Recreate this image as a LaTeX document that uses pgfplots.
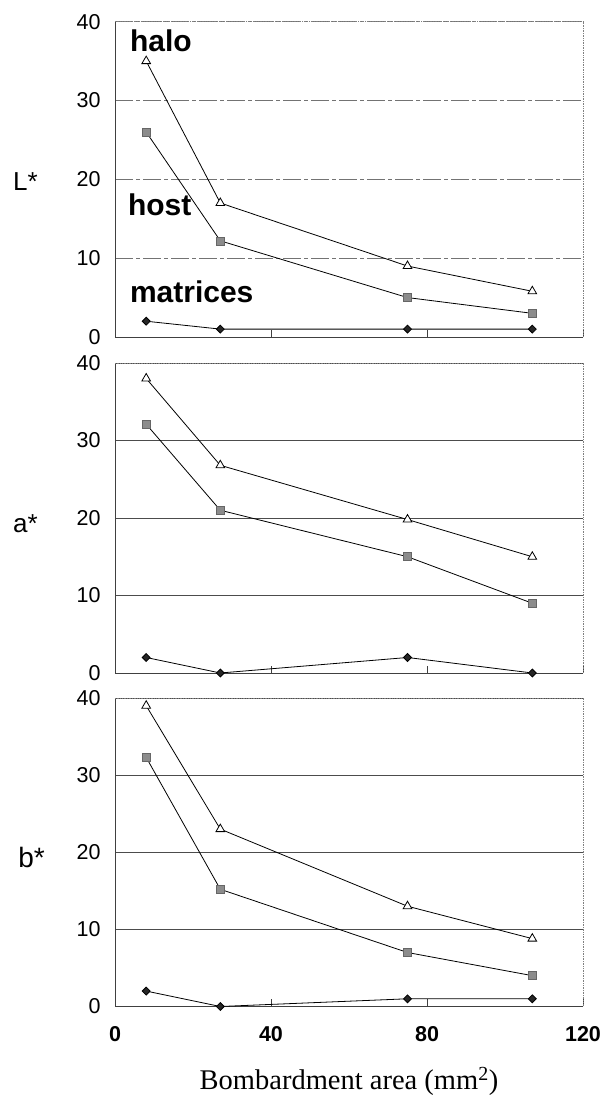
\documentclass[border=0pt]{standalone}
\usepackage{fontspec}
\setmainfont{Liberation Serif}
\newfontfamily\arial{Liberation Sans}
\usepackage{pgfplots}
\usepackage{pgfplotstable}
\pgfplotsset{compat=1.18}

\pgfplotstableread{
x halo host mat
8 35 26 2
27 17 12.2 1
75 9 5 1
107 5.8 3 1
}\Ltab
\pgfplotstableread{
x halo host mat
8 38 32.1 2
27 26.8 21 0
75 19.8 15 2
107 15 9 0
}\Atab
\pgfplotstableread{
x halo host mat
8 39 32.3 2
27 23 15.2 0
75 13 7 1
107 8.8 4 1
}\Btab

\newcommand{\tickfont}{\arial\fontsize{21.5}{21.5}\selectfont}
\newcommand{\labfont}{\arial\fontsize{26}{26}\selectfont}
\newcommand{\txtfont}{\arial\bfseries\fontsize{30}{30}\selectfont}

\pgfplotsset{
  panel/.style={
    scale only axis, width=468pt,
    xmin=0, xmax=120, ymin=0, ymax=40,
    xtick={0,40,80,120}, ytick={0,10,20,30,40},
    axis lines*=left,
    axis line style={black!75, line width=0.8pt},
    tick align=inside, major tick length=7pt,
    ytick style={draw=none},
    xtick style={black!75, line width=0.7pt},
    /pgf/number format/assume math mode=true,
    ticklabel style={font=\tickfont},
    yticklabel style={xshift=-11pt},
    ymajorgrids,
    clip=false,
  },
  halo/.style={black, line width=0.8pt, mark=triangle*, mark size=5pt,
    mark options={fill=white, draw=black, line width=0.8pt}},
  host/.style={black, line width=0.8pt, mark=square*, mark size=4pt,
    mark options={fill=black!45, draw=black!60, line width=0.6pt}},
  mat/.style={black, line width=0.8pt, mark=square*, mark size=2.8pt,
    mark options={fill=black!85, draw=black, rotate=45}},
}

\begin{document}
\begin{tikzpicture}
\path[use as bounding box] (0,0) rectangle (603pt,1097pt);

% Panel 1: L*
\begin{axis}[panel, height=315.3pt, at={(115pt,760pt)}, anchor=south west,
  xticklabels={},
  grid style={black!55, line width=0.7pt, dash pattern=on 18pt off 3pt on 4pt off 3pt}]
\draw[black!50, densely dotted, line width=0.7pt] (rel axis cs:0,1) -- (rel axis cs:1,1) -- (rel axis cs:1,0);
\addplot[halo] table[x=x, y=halo] {\Ltab};
\addplot[host] table[x=x, y=host] {\Ltab};
\addplot[mat] table[x=x, y=mat] {\Ltab};
\node[anchor=base west, font=\txtfont, inner sep=0] at (axis cs:3.8,36.2) {halo};
\node[anchor=base west, font=\txtfont, inner sep=0] at (axis cs:3.3,15.4) {host};
\node[anchor=base west, font=\txtfont, inner sep=0] at (axis cs:3.8,4.4) {matrices};
\node[font=\labfont, anchor=east, inner sep=0, xshift=-77pt, yshift=-2pt] at (rel axis cs:0,0.5) {L*};
\end{axis}

% Panel 2: a*
\begin{axis}[panel, height=310pt, at={(115pt,424pt)}, anchor=south west,
  xticklabels={},
  grid style={black!70, line width=0.7pt}]
\draw[black!50, densely dotted, line width=0.7pt] (rel axis cs:0,1) -- (rel axis cs:1,1) -- (rel axis cs:1,0);
\addplot[halo] table[x=x, y=halo] {\Atab};
\addplot[host] table[x=x, y=host] {\Atab};
\addplot[mat] table[x=x, y=mat] {\Atab};
\node[font=\labfont, anchor=east, inner sep=0, xshift=-77pt, yshift=-6pt] at (rel axis cs:0,0.5) {a*};
\end{axis}

% Panel 3: b*
\begin{axis}[panel, height=308.5pt, at={(115pt,90.5pt)}, anchor=south west,
  xticklabel style={font=\tickfont\bfseries, yshift=-16pt},
  grid style={black!70, line width=0.7pt},
  every axis x label/.style={at={(rel axis cs:0.5,0)}, anchor=base, yshift=-83.5pt, font=\fontsize{28.5}{28.5}\selectfont},
  xlabel={Bombardment area (mm\textsuperscript{2})}]
\draw[black!50, densely dotted, line width=0.7pt] (rel axis cs:0,1) -- (rel axis cs:1,1) -- (rel axis cs:1,0);
\addplot[halo] table[x=x, y=halo] {\Btab};
\addplot[host] table[x=x, y=host] {\Btab};
\addplot[mat] table[x=x, y=mat] {\Btab};
\node[font=\arial\fontsize{28}{28}\selectfont, anchor=east, inner sep=0, xshift=-70pt, yshift=-5pt] at (rel axis cs:0,0.5) {b*};
\end{axis}
\end{tikzpicture}
\end{document}
